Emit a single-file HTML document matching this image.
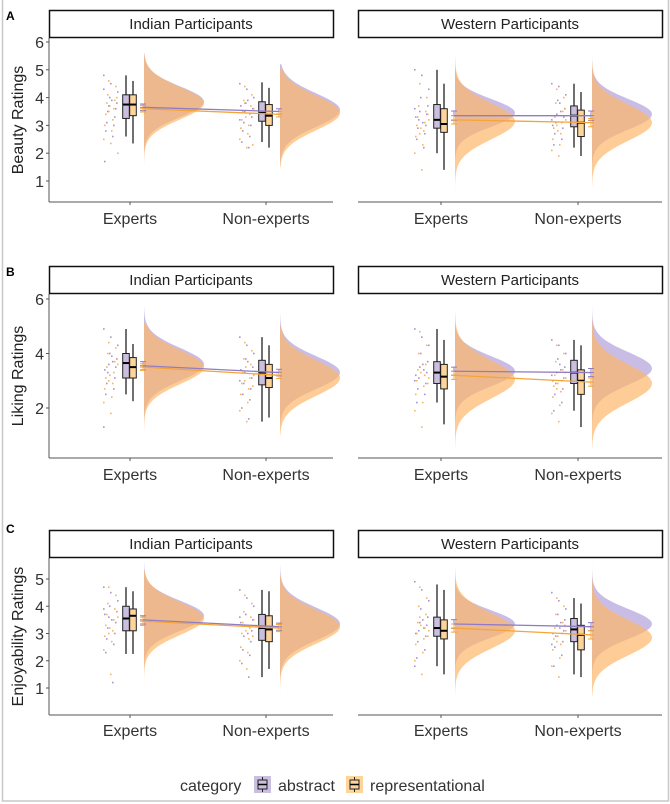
<!DOCTYPE html>
<html><head><meta charset="utf-8">
<style>
html,body{margin:0;padding:0;background:#fff;}
svg{display:block;font-family:"Liberation Sans",Arial,sans-serif;}
</style></head>
<body>
<svg id="fig" width="670" height="804" viewBox="0 0 670 804"></svg>
<script>
// ---- data ----
const facets = ["Indian Participants","Western Participants"];
const groups = ["Experts","Non-experts"];
const categories = ["abstract","representational"];
const panelLetters = ["A","B","C"];
const yTitles = ["Beauty Ratings","Liking Ratings","Enjoyability Ratings"];
const yTicks = [[1,2,3,4,5,6],[2,4,6],[1,2,3,4,5]];
// box stats [q1, median, q3, whiskerLow, whiskerHigh] per panel/facet/group/category
const boxStats = [
 [[[[3.25,3.75,4.1,2.6,4.8],[3.35,3.75,4.1,2.35,4.6]],[[3.15,3.45,3.85,2.4,4.55],[3.0,3.35,3.75,2.2,4.35]]],
  [[[2.9,3.2,3.75,2.0,5.0],[2.75,3.05,3.6,1.4,4.5]],[[2.95,3.35,3.7,2.2,4.5],[2.6,3.1,3.55,1.9,4.2]]]],
 [[[[3.1,3.65,4.0,2.5,4.9],[3.1,3.5,3.85,2.25,4.35]],[[2.85,3.3,3.75,1.5,4.6],[2.75,3.1,3.6,1.65,4.3]]],
  [[[2.9,3.3,3.7,2.2,4.9],[2.7,3.15,3.6,1.4,4.5]],[[2.9,3.3,3.75,1.9,4.5],[2.5,3.0,3.4,1.3,4.3]]]],
 [[[[3.1,3.55,4.0,2.25,4.7],[3.1,3.65,3.9,2.25,4.55]],[[2.75,3.2,3.7,1.4,4.6],[2.7,3.15,3.65,1.7,4.55]]],
  [[[2.9,3.2,3.6,1.8,4.8],[2.8,3.1,3.5,1.5,4.6]],[[2.7,3.15,3.55,1.5,4.3],[2.4,2.95,3.3,1.4,4.1]]]]
];
// means [mean, errHalfWidth]
const means = [
 [[[[3.65,0.12],[3.6,0.12]],[[3.5,0.1],[3.4,0.1]]],[[[3.35,0.17],[3.2,0.15]],[[3.35,0.17],[3.1,0.15]]]],
 [[[[3.55,0.15],[3.5,0.12]],[[3.3,0.12],[3.2,0.12]]],[[[3.35,0.15],[3.2,0.15]],[[3.3,0.15],[2.95,0.15]]]],
 [[[[3.5,0.15],[3.45,0.15]],[[3.25,0.13],[3.2,0.13]]],[[[3.35,0.16],[3.2,0.15]],[[3.25,0.15],[2.95,0.15]]]]
];
// density [center, sd, min, max]
const dens = [
 [[[[3.85,0.55,1.0,5.6],[3.8,0.58,1.1,5.5]],[[3.55,0.6,1.5,5.2],[3.45,0.62,1.5,5.0]]],[[[3.45,0.5,0.6,5.8],[3.15,0.65,0.6,5.5]],[[3.4,0.55,0.9,5.7],[3.1,0.65,0.8,5.3]]]],
 [[[[3.6,0.6,0.5,5.7],[3.5,0.62,0.6,5.1]],[[3.3,0.6,1.0,5.5],[3.1,0.65,1.0,5.0]]],[[[3.35,0.55,0.6,5.9],[3.05,0.7,0.5,5.5]],[[3.45,0.6,0.6,5.8],[2.9,0.7,0.5,5.3]]]],
 [[[[3.65,0.55,0.3,5.6],[3.55,0.6,0.4,5.3]],[[3.35,0.6,0.8,5.5],[3.25,0.62,0.9,5.1]]],[[[3.35,0.5,0.5,5.8],[3.1,0.65,0.5,5.4]],[[3.35,0.55,0.8,5.7],[2.85,0.65,0.7,5.2]]]]
];
// raw points (subset) per panel/facet/group/category
const pts = [
 [[[[4.8,4.5,4.2,4.0,3.8,3.7,3.6,3.5,3.3,3.1,3.0,2.8,2.6,1.7,3.9,4.3],[4.6,4.4,4.1,3.9,3.8,3.6,3.4,3.2,3.0,2.8,2.5,2.35,2.0,3.7,4.0,3.5]],
   [[4.5,4.3,4.0,3.8,3.6,3.5,3.3,3.1,3.0,2.8,2.6,2.4,2.2,3.7,3.9,3.2],[4.4,4.1,3.9,3.7,3.5,3.4,3.2,3.0,2.9,2.7,2.5,2.2,3.6,3.3,2.3,3.8]]],
  [[[5.0,4.8,4.3,4.0,3.7,3.5,3.4,3.2,3.0,2.9,2.7,2.5,2.2,3.3,3.1,3.6],[4.5,4.0,3.7,3.5,3.3,3.1,3.0,2.8,2.6,2.3,2.0,1.4,3.2,2.9,3.4,2.7]],
   [[4.5,4.4,4.1,3.9,3.6,3.4,3.3,3.1,2.9,2.7,2.5,2.3,3.5,3.0,3.8,3.2],[4.3,4.0,3.8,3.5,3.3,3.1,2.9,2.7,2.5,2.3,2.1,1.9,3.2,2.8,3.6,3.0]]]],
 [[[[4.9,4.6,4.3,4.0,3.8,3.6,3.5,3.3,3.1,2.9,2.7,2.5,3.7,3.4,3.9,1.3],[4.4,4.2,4.0,3.7,3.5,3.3,3.1,2.9,2.7,2.4,2.2,1.8,3.6,3.2,3.8,3.0]],
   [[4.6,4.3,4.0,3.8,3.5,3.3,3.1,2.9,2.7,2.5,2.3,2.0,1.6,3.4,3.7,3.0],[4.4,4.1,3.8,3.6,3.3,3.1,2.9,2.7,2.5,2.2,1.9,1.5,3.2,3.5,2.8,3.0]]],
  [[[4.9,4.6,4.3,4.0,3.7,3.5,3.3,3.1,2.9,2.7,2.5,2.2,3.4,3.2,3.6,3.0],[4.8,4.3,4.0,3.6,3.4,3.2,3.0,2.8,2.5,2.2,1.9,1.3,3.1,3.3,2.9,3.5]],
   [[4.5,4.3,4.0,3.8,3.5,3.3,3.1,2.9,2.7,2.5,2.2,1.9,3.4,3.0,3.6,3.2],[4.3,4.0,3.7,3.4,3.2,3.0,2.8,2.6,2.4,2.1,1.8,1.5,3.1,2.9,3.3,2.7]]]],
 [[[[4.7,4.5,4.2,4.0,3.8,3.6,3.4,3.2,3.0,2.8,2.6,2.3,1.2,3.7,3.5,3.9],[4.7,4.4,4.1,3.9,3.7,3.5,3.3,3.1,2.9,2.7,2.4,1.5,3.6,3.2,3.8,3.0]],
   [[4.6,4.3,4.0,3.7,3.5,3.3,3.1,2.9,2.7,2.4,2.2,1.9,1.4,3.4,3.0,3.6],[4.4,4.1,3.8,3.6,3.4,3.2,3.0,2.8,2.5,2.3,2.0,1.7,3.5,3.1,2.9,3.3]]],
  [[[4.9,4.6,4.2,3.9,3.6,3.4,3.3,3.1,2.9,2.7,2.4,2.1,3.2,3.0,3.5,1.8],[4.7,4.3,4.0,3.7,3.4,3.2,3.0,2.8,2.6,2.3,2.0,1.5,3.1,3.3,2.9,3.6]],
   [[4.5,4.2,3.9,3.7,3.5,3.3,3.1,2.9,2.7,2.5,2.2,1.8,3.4,3.0,3.2,2.6],[4.3,4.0,3.7,3.4,3.2,3.0,2.8,2.6,2.4,2.1,1.8,1.4,3.1,2.9,3.3,2.7]]]]
];
// ---- layout ----
const svg = document.getElementById('fig');
const NS = 'http://www.w3.org/2000/svg';
function mk(tag, attrs, parent){const e=document.createElementNS(NS,tag);for(const k in attrs)e.setAttribute(k,attrs[k]);(parent||svg).appendChild(e);return e;}
const panelGeom = [
 {letterY:14, stripTop:10, plotTop:38, plotBot:202, v1:6, y1:42, v2:1, y2:181, labY:224},
 {letterY:270, stripTop:266, plotTop:294, plotBot:458, v1:6, y1:299, v2:2, y2:408, labY:480},
 {letterY:527, stripTop:530, plotTop:558, plotBot:715, v1:5, y1:579, v2:1, y2:688, labY:736}
];
const facetGeom = [{x0:49,x1:333,gx:[130,266]},{x0:358,x1:662,gx:[441,578]}];
const boxFill = ['#cbbfe0','#fdd49a'];
const lineCol = ['#8f7cc4','#f5a43a'];
const densFill = ['rgba(165,145,212,0.6)','rgba(253,182,105,0.7)'];
const ptCol = ['#8f7cc4','#f6a23a'];

const frame = mk('rect',{x:2.5,y:-2,width:666,height:803,fill:'none',stroke:'#c8c8c8','stroke-width':1.5});



panelGeom.forEach((pg,pi)=>{
  const scale = v => pg.y1 + (v-pg.v1)*(pg.y2-pg.y1)/(pg.v2-pg.v1);
  const letter = mk('text',{x:6,y:pg.letterY+6,'font-size':12,'font-weight':'bold',fill:'#000'});
  letter.textContent = panelLetters[pi];
  
  
  const yt = mk('text',{x:0,y:0,'font-size':16,fill:'#222','text-anchor':'middle',transform:`translate(23,${(pg.plotTop+pg.plotBot)/2}) rotate(-90)`});
  yt.textContent = yTitles[pi];
  
  
  facetGeom.forEach((fg,fi)=>{
    const g = mk('g',{});
    
    
    const strip = mk('rect',{x:fg.x0+0.5,y:pg.stripTop+0.5,width:fg.x1-fg.x0,height:pg.plotTop-pg.stripTop-1,fill:'#fff',stroke:'#111','stroke-width':1.5},g);
    
    
    const st = mk('text',{x:(fg.x0+fg.x1)/2,y:pg.stripTop+19,'font-size':15,fill:'#222','text-anchor':'middle'},g);
    st.textContent = facets[fi];
    
    
    const xa = mk('line',{x1:fg.x0,x2:fg.x1,y1:pg.plotBot,y2:pg.plotBot,stroke:'#555','stroke-width':1},g);
    
    
    if(fi==0){
      const ya = mk('line',{x1:fg.x0,x2:fg.x0,y1:pg.plotTop,y2:pg.plotBot,stroke:'#555','stroke-width':1},g);
      
      
      yTicks[pi].forEach(t=>{
        const y=scale(t);
        const tk = mk('line',{x1:fg.x0-3,x2:fg.x0,y1:y,y2:y,stroke:'#555'},g);
        
        
        const tl = mk('text',{x:fg.x0-5,y:y+6,'font-size':16,fill:'#333','text-anchor':'end'},g);
        tl.textContent = t;
        
        
      });
    }
    groups.forEach((gn,gi)=>{
      const gx = fg.gx[gi];
      const tk = mk('line',{x1:gx,x2:gx,y1:pg.plotBot,y2:pg.plotBot+3,stroke:'#555'},g);
      
      
      const tl = mk('text',{x:gx,y:pg.labY,'font-size':16,fill:'#333','text-anchor':'middle'},g);
      tl.textContent = gn;
      
      
      categories.forEach((c,ci)=>{
        const d = dens[pi][fi][gi][ci];
        const base = gx+14;
        let p = `M${base},${scale(d[2])}`;
        for(let k=0;k<=80;k++){
          const v = d[2]+(d[3]-d[2])*k/80;
          const w = 60*Math.exp(-Math.pow(v-d[0],2)/(2*d[1]*d[1]));
          p += ` L${base+w},${scale(v)}`;
        }
        p += ` L${base},${scale(d[3])} Z`;
        const dp = mk('path',{d:p,fill:densFill[ci],stroke:'none'},g);
        
        
      });
      categories.forEach((c,ci)=>{
        pts[pi][fi][gi][ci].forEach((v,k)=>{
          const jx = gx-27 + ((k*7+ci*5)%15);
          const pt = mk('rect',{x:jx,y:scale(v)-0.8,width:1.6,height:1.6,fill:ptCol[ci],opacity:0.8},g);
          
          
        });
      });
      categories.forEach((c,ci)=>{
        const b = boxStats[pi][fi][gi][ci];
        const cx = gx-4+ci*7;
        const wl = mk('line',{x1:cx,x2:cx,y1:scale(b[3]),y2:scale(b[4]),stroke:'#111','stroke-width':1.2},g);
        
        
        const bx = mk('rect',{x:cx-3.3,y:scale(b[2]),width:6.6,height:scale(b[0])-scale(b[2]),fill:boxFill[ci],stroke:'#222','stroke-width':1},g);
        
        
        const md = mk('line',{x1:cx-3.3,x2:cx+3.3,y1:scale(b[1]),y2:scale(b[1]),stroke:'#000','stroke-width':2},g);
        
        
        const m = means[pi][fi][gi][ci];
        const ex = gx+13;
        const eb = mk('path',{d:`M${ex-3},${scale(m[0]+m[1])}H${ex+3}M${ex},${scale(m[0]+m[1])}V${scale(m[0]-m[1])}M${ex-3},${scale(m[0]-m[1])}H${ex+3}M${ex-3},${scale(m[0])}H${ex+3}`,stroke:lineCol[ci],'stroke-width':1,fill:'none'},g);
        
        
      });
    });
    categories.forEach((c,ci)=>{
      const m0 = means[pi][fi][0][ci][0], m1 = means[pi][fi][1][ci][0];
      const ml = mk('line',{x1:fg.gx[0]+13,x2:fg.gx[1]+13,y1:scale(m0),y2:scale(m1),stroke:lineCol[ci],'stroke-width':1.3},g);
      
      
    });
  });
});
const lg = mk('g',{});


const lt = mk('text',{x:180,y:791,'font-size':16,fill:'#333'},lg);
lt.textContent='category';


[[254,'abstract',278],[346,'representational',370]].forEach((e,ci)=>{
  const kbg = mk('rect',{x:e[0],y:776,width:17,height:17,fill:boxFill[ci]},lg);
  
  
  mk('rect',{x:e[0]+4,y:780,width:9,height:9,fill:boxFill[ci],stroke:'#222'},lg);
  mk('line',{x1:e[0]+4,x2:e[0]+13,y1:784.5,y2:784.5,stroke:'#000','stroke-width':1.5},lg);
  mk('line',{x1:e[0]+8.5,x2:e[0]+8.5,y1:777,y2:780,stroke:'#222'},lg);
  mk('line',{x1:e[0]+8.5,x2:e[0]+8.5,y1:789,y2:792,stroke:'#222'},lg);
  const tx = mk('text',{x:e[2],y:791,'font-size':16,fill:'#333'},lg);
  tx.textContent = e[1];
  
  
});
</script>
</body></html>
